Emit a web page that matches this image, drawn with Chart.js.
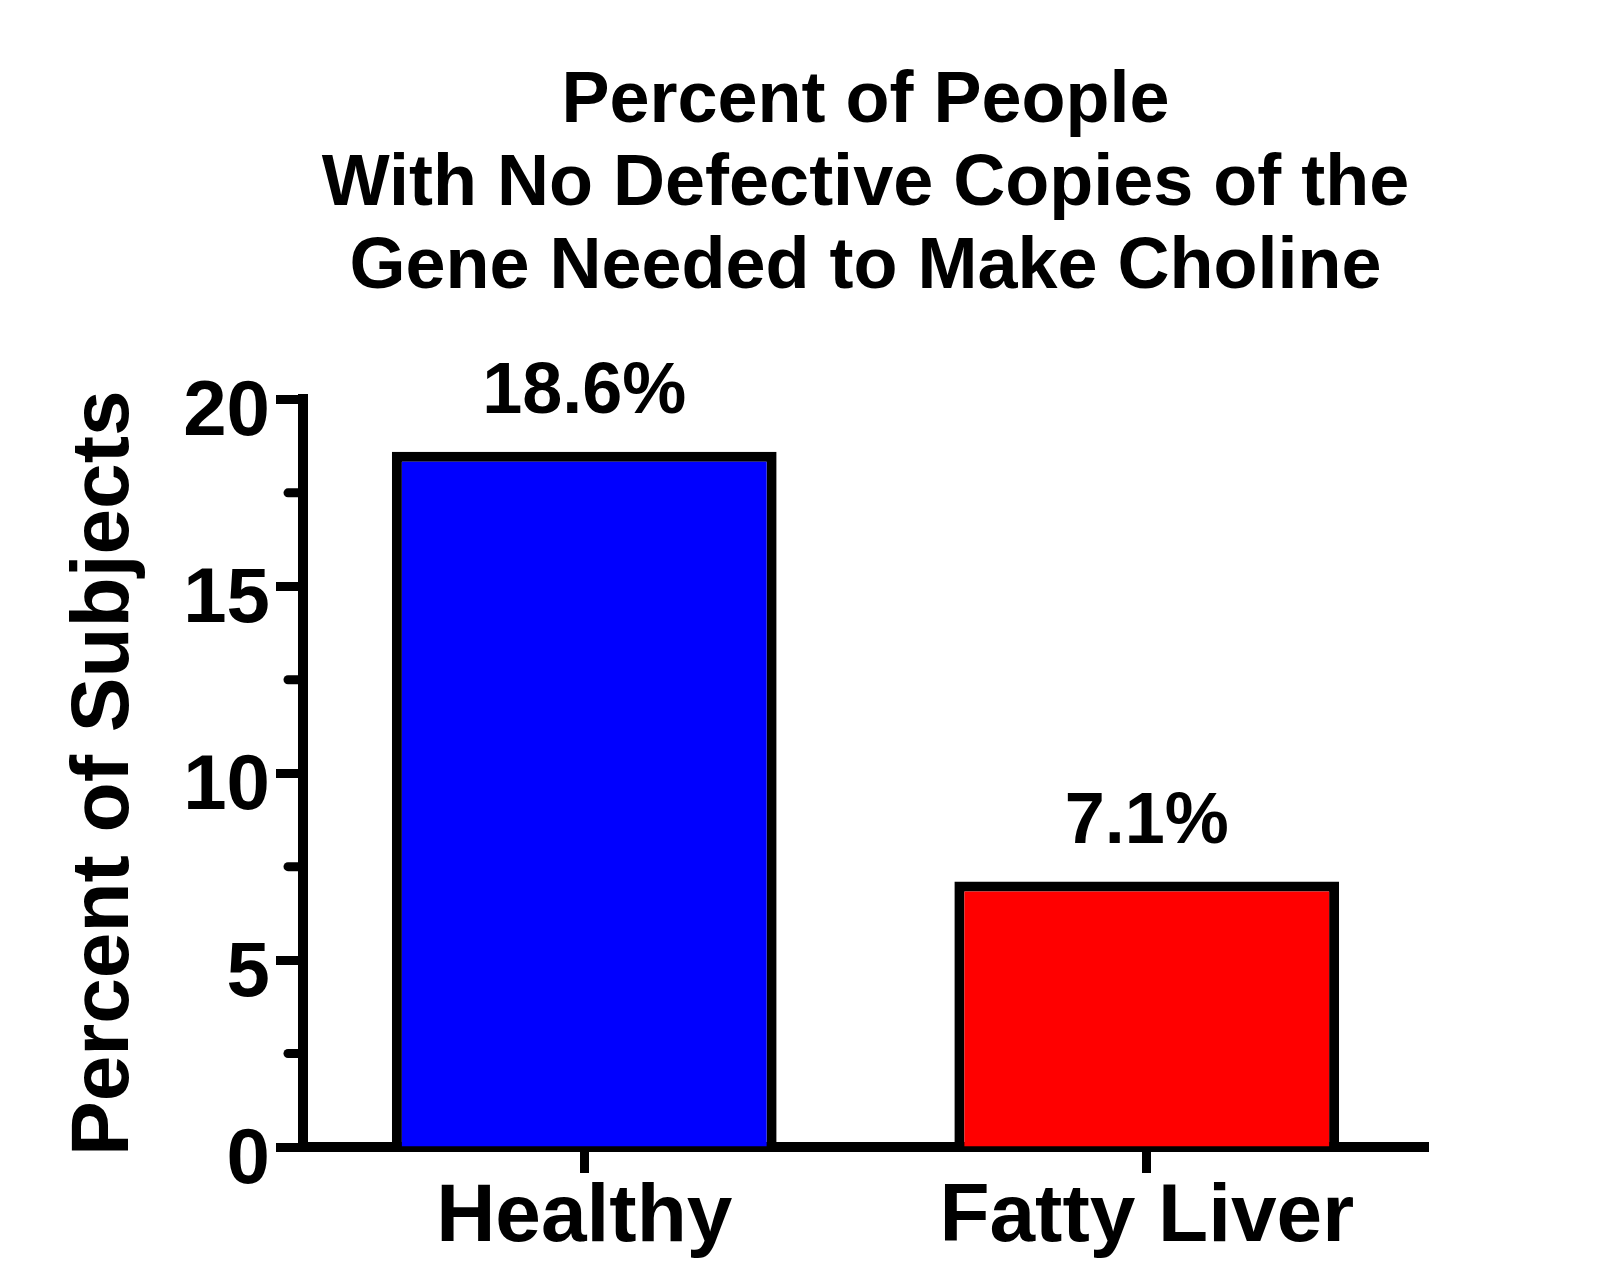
<!DOCTYPE html>
<html>
<head>
<meta charset="utf-8">
<title>Percent of People With No Defective Copies</title>
<script src="https://cdn.jsdelivr.net/npm/chart.js@4/dist/chart.umd.min.js"></script>
<style>
  html, body { margin: 0; padding: 0; background: #fff; }
  #wrap { width: 1600px; height: 1288px; }
</style>
</head>
<body>
<div id="wrap"><canvas id="canvas-1" width="1600" height="1288"></canvas></div>
<script>
// data
var groupLabels = ["Healthy", "Fatty Liver"];
var percentValues = [18.6, 7.1];
var barColors = ["#0000FF", "#FF0000"];
var titleLines = ["Percent of People", "With No Defective Copies of the", "Gene Needed to Make Choline"];
var yAxisTitle = "Percent of Subjects";
var minorTickValues = [2.5, 7.5, 12.5, 17.5];

var fontFamily = "'Liberation Sans', Arial, sans-serif";

// value labels above each bar
var valueLabels = {
  id: 'valueLabels',
  afterDatasetsDraw: function(chart) {
    var ctx = chart.ctx;
    var meta = chart.getDatasetMeta(0);
    ctx.save();
    ctx.font = "bold 72px " + fontFamily;
    ctx.fillStyle = "#000";
    ctx.textAlign = "center";
    ctx.textBaseline = "alphabetic";
    meta.data.forEach(function(bar, i) {
      ctx.fillText(percentValues[i].toFixed(1) + "%", bar.x, bar.y - 39);
    });
    ctx.restore();
  }
};

// short ticks between the numbered ones
var minorTicks = {
  id: 'minorTicks',
  afterDraw: function(chart) {
    var ctx = chart.ctx;
    var y = chart.scales.y;
    ctx.save();
    ctx.strokeStyle = "#000";
    ctx.lineWidth = 9;
    ctx.lineCap = "round";
    minorTickValues.forEach(function(v) {
      var py = y.getPixelForValue(v);
      ctx.beginPath();
      ctx.moveTo(y.right - 15, py);
      ctx.lineTo(y.right, py);
      ctx.stroke();
    });
    ctx.restore();
  }
};

var chart = new Chart(document.getElementById('canvas-1'), {
  type: 'bar',
  data: {
    labels: groupLabels,
    datasets: [{
      data: percentValues,
      backgroundColor: barColors,
      borderColor: "#000",
      borderWidth: 10,
      borderSkipped: 'start',
      categoryPercentage: 1,
      barPercentage: 0.684
    }]
  },
  options: {
    responsive: false,
    animation: false,
    layout: { padding: { left: 0, right: 172, top: 0, bottom: 0 } },
    plugins: {
      legend: { display: false },
      tooltip: { enabled: false },
      title: {
        display: true,
        fullSize: false,
        text: titleLines,
        color: "#000",
        font: { family: fontFamily, size: 72, weight: 'bold', lineHeight: 1.15 },
        padding: { top: 61, bottom: 90 }
      }
    },
    scales: {
      x: {
        grid: { display: true, drawOnChartArea: false, offset: false, tickLength: 26, tickWidth: 9, tickColor: "#000" },
        border: { display: true, width: 10, color: "#000" },
        ticks: {
          color: "#000",
          padding: 4,
          font: { family: fontFamily, size: 82, weight: 'bold', lineHeight: 1 }
        },
        afterFit: function(scale) { scale.height = 141; }
      },
      y: {
        min: 0,
        max: 20,
        grid: { display: true, drawOnChartArea: false, tickLength: 27, tickWidth: 9, tickColor: "#000" },
        border: { display: true, width: 10, color: "#000" },
        ticks: {
          stepSize: 5,
          color: "#000",
          padding: 6,
          labelOffset: 14,
          font: { family: fontFamily, size: 78, weight: 'bold', lineHeight: 1 }
        },
        title: {
          display: true,
          text: yAxisTitle,
          color: "#000",
          padding: { top: 64, bottom: 0 },
          font: { family: fontFamily, size: 82, weight: 'bold', lineHeight: 1 }
        },
        afterFit: function(scale) { scale.width = 303; }
      }
    }
  },
  plugins: [valueLabels, minorTicks]
});
</script>
</body>
</html>
